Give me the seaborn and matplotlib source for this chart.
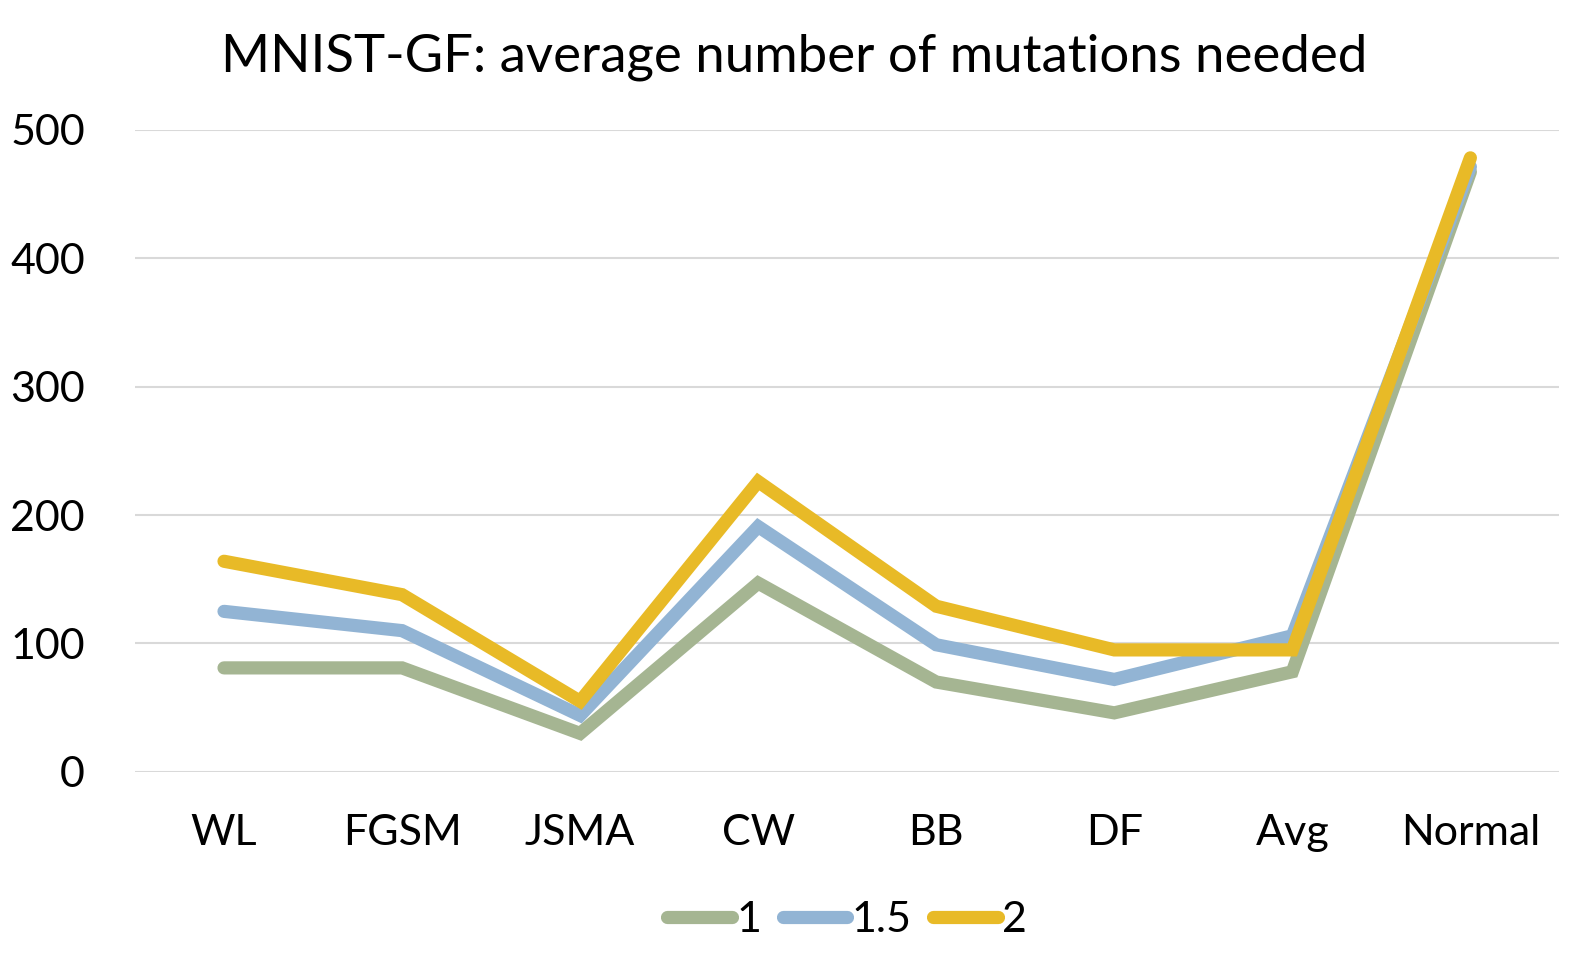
import numpy as np
import pandas as pd
import matplotlib
matplotlib.use("Agg")
import matplotlib.pyplot as plt
import seaborn as sns

categories = ["WL", "FGSM", "JSMA", "CW", "BB", "DF", "Avg", "Normal"]
series_names = ["1", "1.5", "2"]
vals_1 = [81, 81, 30, 147, 70, 46, 78, 467]
vals_15 = [125, 110, 44, 191, 99, 72, 106, 471]
vals_2 = [164, 138, 55, 226, 129, 95, 95, 478]
colors = ["#A5B592", "#92B4D4", "#E8BA27"]
yticks = [0, 100, 200, 300, 400, 500]

rows = []
for name, vals in zip(series_names, [vals_1, vals_15, vals_2]):
    for i, (c, v) in enumerate(zip(categories, vals)):
        rows.append({"cat": c, "x": i, "series": name, "value": v})
df = pd.DataFrame(rows)

sns.set_theme(style="white")
plt.rcParams["font.family"] = ["Lato", "DejaVu Sans"]
plt.rcParams["text.color"] = "black"
plt.rcParams["xtick.color"] = "black"
plt.rcParams["ytick.color"] = "black"

fig = plt.figure(figsize=(15.88, 9.67), dpi=100)
ax = fig.add_axes([0.085, 0.2017, 0.897, 0.6643])

sns.lineplot(data=df, x="x", y="value", hue="series", hue_order=series_names,
             palette=colors, linewidth=9.5, ax=ax, legend=True, sort=False)
for ln in ax.lines:
    ln.set_solid_capstyle("round")
    ln.set_solid_joinstyle("miter")

ax.set_xlim(-0.5, len(categories) - 0.5)
ax.set_ylim(0, 500)
ax.set_yticks(yticks)
ax.set_yticklabels([str(t) for t in yticks], fontsize=31, color="black")
ax.set_xticks(range(len(categories)))
ax.set_xticklabels(categories, fontsize=31, color="black")
ax.tick_params(axis="x", length=0, pad=30)
ax.tick_params(axis="y", length=0, pad=36)
ax.grid(axis="y", color="#D9D9D9", linewidth=1.5)
ax.set_axisbelow(True)
for s in ax.spines.values():
    s.set_visible(False)
ax.set_xlabel("")
ax.set_ylabel("")

fig.suptitle("MNIST-GF: average number of mutations needed", fontsize=38,
             y=0.965, color="black")

handles, labels = ax.get_legend_handles_labels()
leg = ax.legend(handles, labels, loc="upper center", bbox_to_anchor=(0.5, -0.14),
                ncol=3, frameon=False, fontsize=31, handlelength=1.5,
                handletextpad=0.1, columnspacing=0.5)
for t in leg.get_texts():
    t.set_color("black")
for h in leg.get_lines():
    h.set_linewidth(9.5)
    h.set_solid_capstyle("round")

fig.savefig("out.png", dpi=100)
